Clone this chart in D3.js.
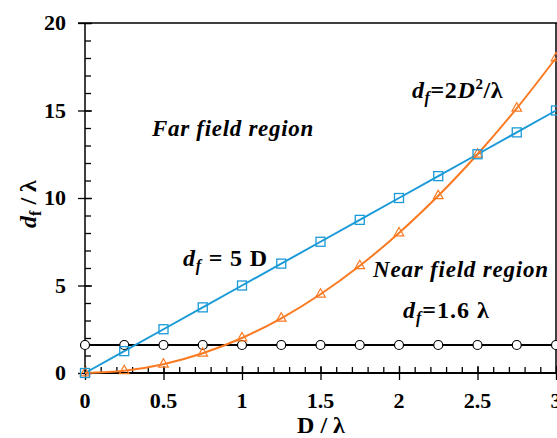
<!DOCTYPE html>
<html>
<head>
<meta charset="utf-8">
<script src="https://cdn.jsdelivr.net/npm/d3@7"></script>
<style>
body { margin: 0; background: #fff; }
text { font-family: "Liberation Serif", "Times New Roman", serif; font-weight: bold; }
</style>
</head>
<body>
<div id="chart"></div>
<script>
var W = 557, H = 438;
var margin = {left: 85, right: 1, top: 23, bottom: 65};

// data, D / lambda
var dVals = [0, 0.25, 0.5, 0.75, 1, 1.25, 1.5, 1.75, 2, 2.25, 2.5, 2.75, 3];
var farField = [0, 0.125, 0.5, 1.125, 2, 3.125, 4.5, 6.125, 8, 10.125, 12.5, 15.125, 18]; // 2D^2/lambda
var fiveD = [0, 1.25, 2.5, 3.75, 5, 6.25, 7.5, 8.75, 10, 11.25, 12.5, 13.75, 15];
var constLine = [1.6, 1.6, 1.6, 1.6, 1.6, 1.6, 1.6, 1.6, 1.6, 1.6, 1.6, 1.6, 1.6];
var xTicks = [0, 0.5, 1, 1.5, 2, 2.5, 3];
var yTicks = [0, 5, 10, 15, 20];

var blue = "#1b9ad8", orange = "#fa7a22";

var svg = d3.select("#chart").append("svg").attr("width", W).attr("height", H);

var x = d3.scaleLinear().domain([0, 3]).range([margin.left, W - margin.right]);
var y = d3.scaleLinear().domain([0, 20]).range([H - margin.bottom, margin.top]);
var x0 = margin.left, y0 = H - margin.bottom;

// minor ticks (inside)
svg.append("g").attr("transform", "translate(0," + y0 + ")")
  .call(d3.axisBottom(x).tickValues(d3.range(0, 30).map(i => i / 10)).tickSizeInner(-6).tickSizeOuter(0).tickFormat(""))
  .call(g => g.select(".domain").remove());
svg.append("g").attr("transform", "translate(" + x0 + ",0)")
  .call(d3.axisLeft(y).tickValues(d3.range(0, 21)).tickSizeInner(-6).tickSizeOuter(0).tickFormat(""))
  .call(g => g.select(".domain").remove());

// major ticks crossing axes
svg.append("g").attr("transform", "translate(0," + (y0 - 7) + ")")
  .call(d3.axisBottom(x).tickValues(xTicks).tickSizeInner(14).tickSizeOuter(0).tickFormat(""))
  .call(g => g.select(".domain").remove());
svg.append("g").attr("transform", "translate(" + (x0 + 7) + ",0)")
  .call(d3.axisLeft(y).tickValues(yTicks).tickSizeInner(14).tickSizeOuter(0).tickFormat(""))
  .call(g => g.select(".domain").remove());

svg.selectAll(".tick line").attr("stroke", "#000").attr("stroke-width", 1.3);

// tick labels
svg.append("g").selectAll("text").data(xTicks).join("text")
  .attr("x", d => x(d)).attr("y", y0 + 35)
  .attr("text-anchor", "middle").attr("font-size", 22)
  .text(d => d);
svg.append("g").selectAll("text").data(yTicks).join("text")
  .attr("x", x0 - 19).attr("y", d => y(d) + 7)
  .attr("text-anchor", "end").attr("font-size", 22)
  .text(d => d);

// frame
svg.append("line").attr("x1", x0).attr("x2", x0).attr("y1", y(20)).attr("y2", y0).attr("stroke", "#000").attr("stroke-width", 1.5);
svg.append("line").attr("x1", x0 - 7).attr("x2", W).attr("y1", y(20)).attr("y2", y(20)).attr("stroke", "#000").attr("stroke-width", 1.5);
svg.append("line").attr("x1", x(3)).attr("x2", x(3)).attr("y1", y(20)).attr("y2", y0).attr("stroke", "#000").attr("stroke-width", 1.5);
svg.append("line").attr("x1", x0).attr("x2", W).attr("y1", y0).attr("y2", y0).attr("stroke", "#000").attr("stroke-width", 2);

// series
var line = d3.line().x((d, i) => x(dVals[i])).y(d => y(d));
svg.append("path").datum(constLine).attr("d", line).attr("fill", "none").attr("stroke", "#000").attr("stroke-width", 2);
svg.append("path").datum(fiveD).attr("d", line).attr("fill", "none").attr("stroke", blue).attr("stroke-width", 2);
svg.append("path").datum(farField).attr("d", line.curve(d3.curveCatmullRom)).attr("fill", "none").attr("stroke", orange).attr("stroke-width", 2);

svg.append("g").selectAll("circle").data(constLine).join("circle")
  .attr("cx", (d, i) => x(dVals[i])).attr("cy", d => y(d)).attr("r", 4.5)
  .attr("fill", "#fff").attr("stroke", "#000").attr("stroke-width", 1.2);
svg.append("g").selectAll("path").data(farField).join("path")
  .attr("transform", (d, i) => "translate(" + x(dVals[i]) + "," + y(d) + ")")
  .attr("d", d3.symbol(d3.symbolTriangle, 40))
  .attr("fill", "none").attr("stroke", orange).attr("stroke-width", 1.2);
svg.append("g").selectAll("rect").data(fiveD).join("rect")
  .attr("x", (d, i) => x(dVals[i]) - 4.5).attr("y", d => y(d) - 4.5)
  .attr("width", 9).attr("height", 9)
  .attr("fill", "none").attr("stroke", blue).attr("stroke-width", 1.3);

// annotations
function dfLabel(xp, yp, parts, ls) {
  var t = svg.append("text").attr("x", xp).attr("y", yp).attr("font-size", 24).attr("letter-spacing", ls);
  t.append("tspan").attr("font-style", "italic").text("d");
  t.append("tspan").attr("font-style", "italic").attr("font-size", 16).attr("dy", 5).text("f");
  var first = true;
  parts.forEach(function(p) {
    var s = t.append("tspan").text(p.t);
    if (p.i) s.attr("font-style", "italic");
    if (p.sup) s.attr("font-size", 15).attr("dy", -9);
    else if (first) s.attr("dy", -5);
    else if (p.back) s.attr("dy", 9);
    first = false;
  });
  return t;
}
dfLabel(412, 98, [{t: "=2"}, {t: "D", i: true}, {t: "2", sup: true}, {t: "/λ", back: true}], 0.6);
dfLabel(183, 266, [{t: " = 5 D"}], 0.8);
dfLabel(403, 318, [{t: "=1.6 λ"}], 1);

svg.append("text").attr("x", 152).attr("y", 136).attr("font-size", 23).attr("letter-spacing", 0.7).attr("font-style", "italic").text("Far field region");
svg.append("text").attr("x", 373).attr("y", 277).attr("font-size", 23).attr("letter-spacing", 0.8).attr("font-style", "italic").text("Near field region");

// axis titles
svg.append("text").attr("x", 321).attr("y", 433).attr("text-anchor", "middle").attr("font-size", 24).text("D / λ");
var yl = svg.append("text").attr("transform", "translate(36,204) rotate(-90)").attr("text-anchor", "middle").attr("font-size", 24);
yl.append("tspan").attr("font-style", "italic").text("d");
yl.append("tspan").attr("font-size", 16).attr("dy", 5).text("f");
yl.append("tspan").attr("dy", -5).text(" / λ");
</script>
</body>
</html>
